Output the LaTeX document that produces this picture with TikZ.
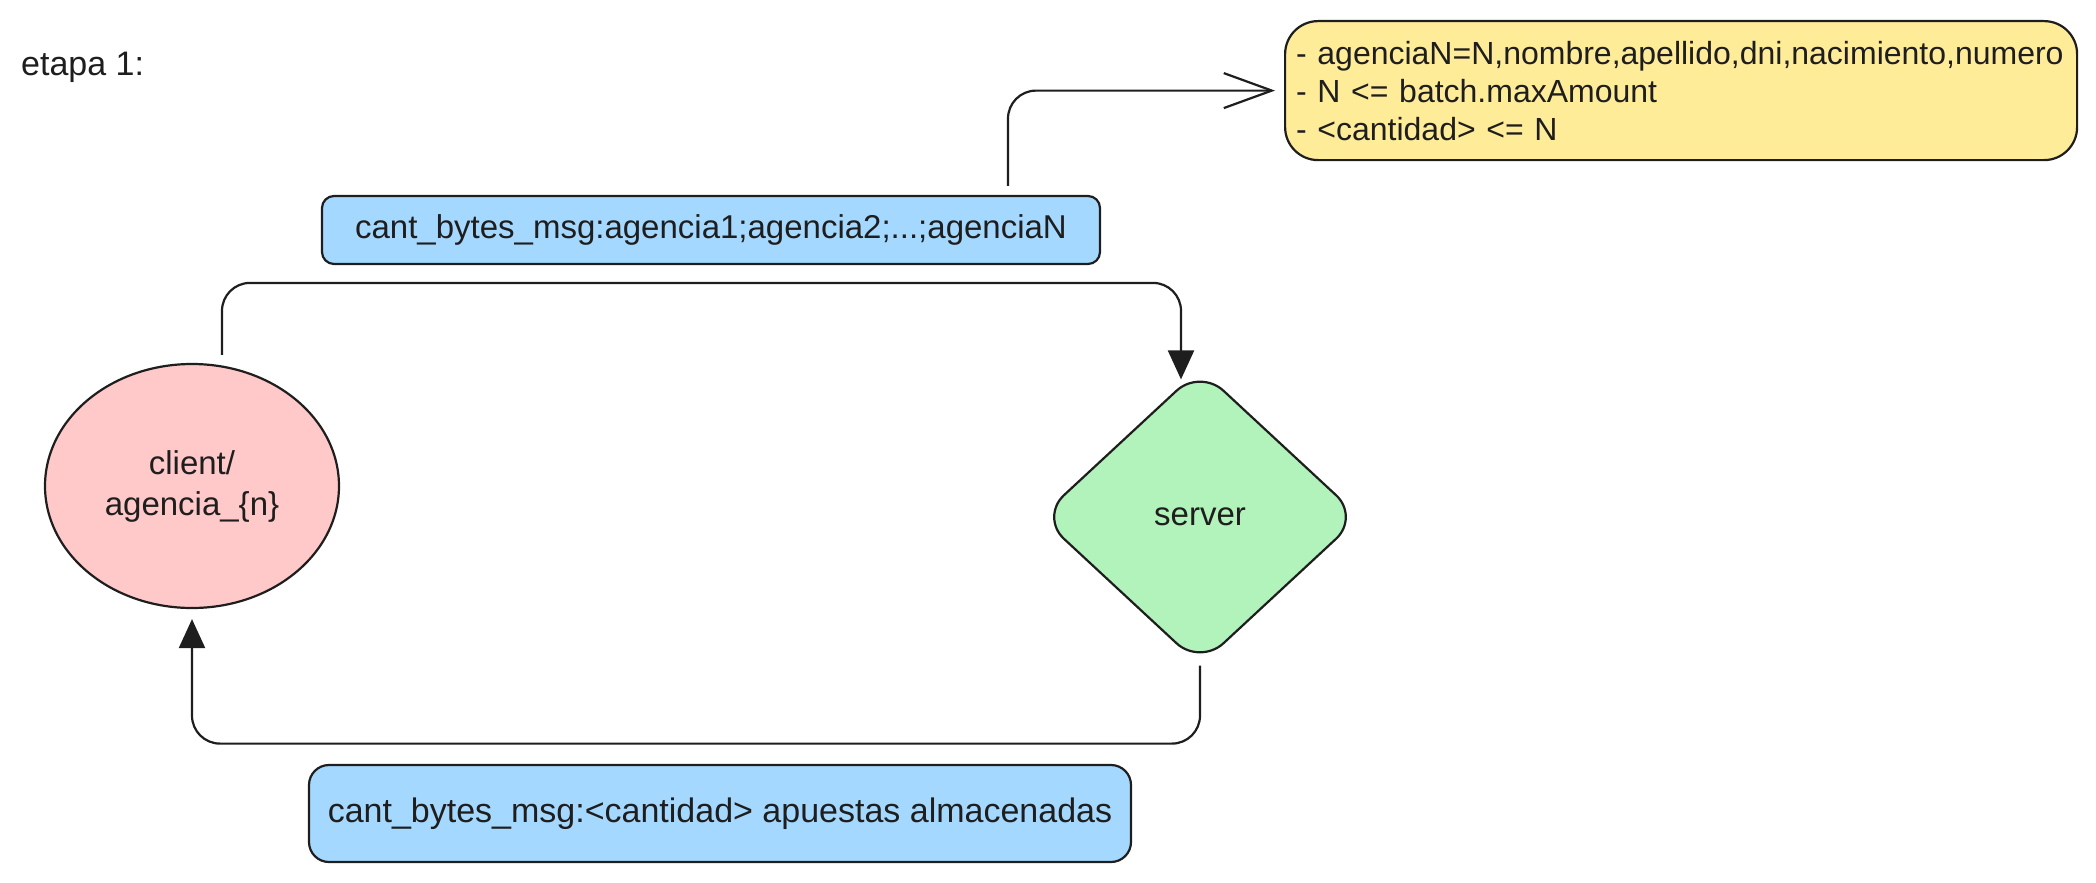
\documentclass[tikz,border=0pt]{standalone}
\usepackage{fontspec}
\setmainfont{Liberation Sans}
\usetikzlibrary{shapes.geometric,arrows.meta,calc}
\definecolor{ink}{HTML}{1E1E1E}
\definecolor{yellowfill}{HTML}{FFEC99}
\definecolor{bluefill}{HTML}{A5D8FF}
\definecolor{pinkfill}{HTML}{FFC9C9}
\definecolor{greenfill}{HTML}{B2F2BB}
\begin{document}
\begin{tikzpicture}[x=1pt,y=-1pt,
  every node/.style={text=ink, font=\fontsize{33pt}{38pt}\selectfont},
  box/.style={draw=ink, line width=2.2pt},
  conn/.style={draw=ink, line width=2.2pt, rounded corners=28pt},
  solidtip/.style={-{Triangle[length=29pt,width=26pt]}},
  opentip/.style={-{Straight Barb[length=48pt,width=35pt]}}
  ]
\useasboundingbox (0,0) rectangle (2096,883);

\node[anchor=west, inner sep=0, font=\fontsize{34pt}{38pt}\selectfont] (etapa) at (21,67) {etapa 1:};

\node[box, fill=yellowfill, rounded corners=33pt, anchor=north west,
      minimum width=792pt, minimum height=139pt, inner xsep=11pt, inner ysep=0pt,
      text width=770pt, align=left, font=\fontsize{32pt}{38pt}\selectfont] (note) at (1284,20)
  {- agenciaN=N,nombre,apellido,dni,nacimiento,numero\\
   - N <= batch.maxAmount\\
   - <cantidad> <= N};

\node[box, fill=bluefill, rounded corners=12pt, minimum width=778pt,
      minimum height=68pt, inner sep=0] (msg1) at (711,230)
  {cant\_bytes\_msg:agencia1;agencia2;...;agenciaN};

\node[box, fill=bluefill, rounded corners=20pt, minimum width=822pt,
      minimum height=97pt, inner sep=0, font=\fontsize{34pt}{38pt}\selectfont] (msg2) at (720,813.5)
  {cant\_bytes\_msg:<cantidad> apuestas almacenadas};

\node[box, ellipse, fill=pinkfill, minimum width=294pt, minimum height=244pt,
      inner sep=0, align=center] (client) at (192,486)
  {client/\\[3pt]agencia\_\{n\}};

\node[box, diamond, fill=greenfill, minimum width=320pt, minimum height=297pt,
      inner sep=0, rounded corners=32pt] (server) at (1200,517) {server};

\coordinate (c1) at ([xshift=30pt,yshift=8pt]client.north);
\coordinate (s1) at ([xshift=-19pt,yshift=-12pt]server.north);
\draw[conn, solidtip] (c1) -- ++(0,-72) -| (s1);

\coordinate (s2) at ([yshift=1pt]server.south);
\coordinate (c2) at ([yshift=-10pt]client.south);
\draw[conn, solidtip] (s2) -- ++(0,78) -| (c2);

\coordinate (m1) at ([xshift=297pt,yshift=9pt]msg1.north);
\coordinate (n1) at ([xshift=-9pt]note.west);
\draw[conn, opentip] (m1) |- (n1);
\end{tikzpicture}
\end{document}
